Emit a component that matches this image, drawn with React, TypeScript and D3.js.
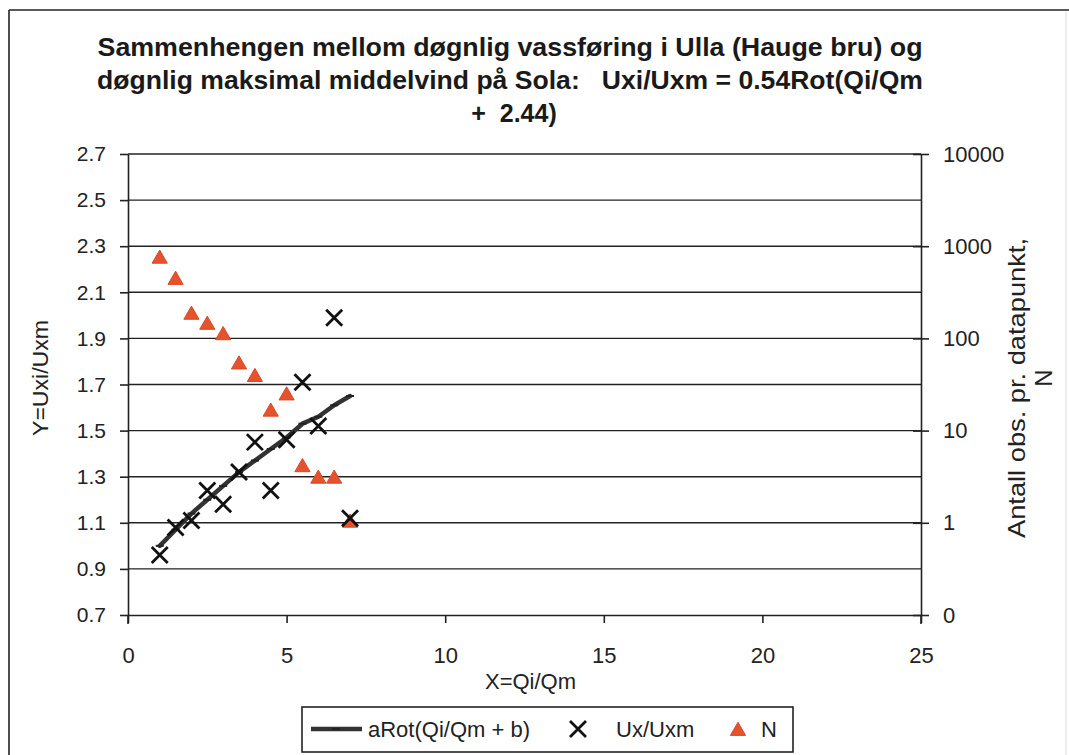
import React, { useEffect, useRef } from 'react';
import * as d3 from 'd3';

// X = Qi/Qm classes
const xVals = [1, 1.5, 2, 2.5, 3, 3.5, 4, 4.5, 5, 5.5, 6, 6.5, 7];
// fitted curve aRot(Qi/Qm + b)
const fitVals = [1.0, 1.07, 1.14, 1.2, 1.26, 1.32, 1.37, 1.42, 1.47, 1.53, 1.56, 1.61, 1.65];
// observed Ux/Uxm
const uxVals = [0.96, 1.08, 1.11, 1.24, 1.18, 1.32, 1.45, 1.24, 1.46, 1.71, 1.52, 1.99, 1.12];
// N, observations per point (right log axis)
const nVals = [730, 430, 180, 140, 108, 52, 38, 16, 24, 4, 3, 3, 1];

const leftTicks = [0.7, 0.9, 1.1, 1.3, 1.5, 1.7, 1.9, 2.1, 2.3, 2.5, 2.7];
const xTicks = [0, 5, 10, 15, 20, 25];
const rightTicks = [0.1, 1, 10, 100, 1000, 10000];
const rightTickLabels = ['0', '1', '10', '100', '1000', '10000'];

const titleLines = [
  'Sammenhengen mellom døgnlig vassføring i Ulla (Hauge bru) og',
  'døgnlig maksimal middelvind på Sola:   Uxi/Uxm = 0.54Rot(Qi/Qm',
  '+  2.44)',
];

const FONT = '"Liberation Sans", Arial, sans-serif';
const RED = '#e4532c';

const App = () => {
  const ref = useRef(null);

  useEffect(() => {
    const W = 1069;
    const H = 755;
    const plot = { left: 128, right: 921, top: 154, bottom: 615 };

    d3.select(ref.current).selectAll('*').remove();

    const svg = d3
      .select(ref.current)
      .append('svg')
      .attr('width', W)
      .attr('height', H)
      .style('position', 'absolute')
      .style('left', '0px')
      .style('top', '0px')
      .style('background', '#fff')
      .style('font-family', FONT);

    // outer chart frame
    svg.append('line').attr('x1', 9).attr('x2', 9).attr('y1', 10).attr('y2', H)
      .attr('stroke', '#222').attr('stroke-width', 1.6);
    svg.append('line').attr('x1', 9).attr('x2', W).attr('y1', 10).attr('y2', 10)
      .attr('stroke', '#222').attr('stroke-width', 1.6);
    svg.append('line').attr('x1', 1066).attr('x2', 1066).attr('y1', 12).attr('y2', H)
      .attr('stroke', '#ddd').attr('stroke-width', 1);

    // title
    const tw = [825, 826, null];
    const ty = [56, 89, 122];
    titleLines.forEach((t, i) => {
      const txt = svg
        .append('text')
        .attr('x', i < 2 ? 510 : 514)
        .attr('y', ty[i])
        .attr('text-anchor', 'middle')
        .style('font-size', '25px')
        .style('font-weight', 'bold')
        .style('white-space', 'pre')
        .style('fill', '#1a1a1a')
        .text(t);
      if (tw[i]) txt.attr('textLength', tw[i]).attr('lengthAdjust', 'spacingAndGlyphs');
    });

    const x = d3.scaleLinear().domain([0, 25]).range([plot.left, plot.right]);
    const y = d3.scaleLinear().domain([0.7, 2.7]).range([plot.bottom, plot.top]);
    const yN = d3.scaleLog().domain([0.1, 10000]).range([plot.bottom, plot.top]);

    // gridlines
    svg
      .append('g')
      .selectAll('line')
      .data(leftTicks.slice(1))
      .enter()
      .append('line')
      .attr('x1', plot.left)
      .attr('x2', plot.right)
      .attr('y1', d => y(d))
      .attr('y2', d => y(d))
      .attr('stroke', '#222')
      .attr('stroke-width', 1.4);

    // left axis
    const gl = svg
      .append('g')
      .attr('transform', `translate(${plot.left},0)`)
      .call(
        d3.axisLeft(y).tickValues(leftTicks).tickFormat(d3.format('.1f'))
          .tickSize(8).tickSizeOuter(0).tickPadding(14)
      );
    gl.selectAll('text').style('font-size', '21px').style('fill', '#222').style('font-family', FONT);

    // bottom axis
    const gb = svg
      .append('g')
      .attr('transform', `translate(0,${plot.bottom})`)
      .call(
        d3.axisBottom(x).tickValues(xTicks).tickFormat(d3.format('d'))
          .tickSize(8).tickSizeOuter(0).tickPadding(24)
      );
    gb.selectAll('text').style('font-size', '22px').style('fill', '#222').style('font-family', FONT);

    // right axis
    const gr = svg
      .append('g')
      .attr('transform', `translate(${plot.right},0)`)
      .call(
        d3.axisRight(yN).tickValues(rightTicks).tickFormat((d, i) => rightTickLabels[i])
          .tickSize(8).tickSizeOuter(0).tickPadding(14)
      );
    gr.selectAll('text').style('font-size', '22px').style('fill', '#222').style('font-family', FONT);
    gr.selectAll('.tick')
      .append('line')
      .attr('x1', -8)
      .attr('x2', 0)
      .attr('stroke', 'currentColor');

    [gl, gb, gr].forEach(g => {
      g.selectAll('path,line').attr('stroke', '#222').attr('stroke-width', 1.6);
    });

    // axis extensions below the x axis
    svg.append('line').attr('x1', plot.left).attr('x2', plot.left)
      .attr('y1', plot.bottom).attr('y2', plot.bottom + 9)
      .attr('stroke', '#222').attr('stroke-width', 1.6);
    svg.append('line').attr('x1', plot.right).attr('x2', plot.right)
      .attr('y1', plot.bottom).attr('y2', plot.bottom + 9)
      .attr('stroke', '#222').attr('stroke-width', 1.6);

    // axis titles
    svg.append('text')
      .attr('x', (plot.left + plot.right) / 2 + 6)
      .attr('y', 689)
      .attr('text-anchor', 'middle')
      .style('font-size', '22px')
      .style('fill', '#222')
      .text('X=Qi/Qm');

    svg.append('text')
      .attr('transform', 'translate(48,378) rotate(-90)')
      .attr('text-anchor', 'middle')
      .attr('textLength', 116)
      .attr('lengthAdjust', 'spacingAndGlyphs')
      .style('font-size', '22px')
      .style('fill', '#222')
      .text('Y=Uxi/Uxm');

    svg.append('text')
      .attr('transform', 'translate(1025,388) rotate(-90)')
      .attr('text-anchor', 'middle')
      .attr('textLength', 300)
      .attr('lengthAdjust', 'spacingAndGlyphs')
      .style('font-size', '24px')
      .style('fill', '#222')
      .text('Antall obs. pr. datapunkt,');
    svg.append('text')
      .attr('transform', 'translate(1052,378) rotate(-90)')
      .attr('text-anchor', 'middle')
      .style('font-size', '24px')
      .style('fill', '#222')
      .text('N');

    const pts = xVals.map((xv, i) => ({ x: xv, fit: fitVals[i], ux: uxVals[i], n: nVals[i] }));

    // fitted line
    const line = d3.line().x(d => x(d.x)).y(d => y(d.fit));
    svg.append('path')
      .datum(pts)
      .attr('d', line)
      .attr('fill', 'none')
      .attr('stroke', '#333')
      .attr('stroke-width', 4.5)
      .attr('stroke-linejoin', 'round')
      .attr('stroke-linecap', 'round');
    svg.append('g')
      .selectAll('line')
      .data(pts)
      .enter()
      .append('line')
      .attr('x1', d => x(d.x) - 4)
      .attr('x2', d => x(d.x) + 4)
      .attr('y1', d => y(d.fit))
      .attr('y2', d => y(d.fit))
      .attr('stroke', '#222')
      .attr('stroke-width', 2);

    // triangles N
    const tri = d3.symbol().type(d3.symbolTriangle).size(100);
    svg.append('g')
      .selectAll('path')
      .data(pts)
      .enter()
      .append('path')
      .attr('d', tri)
      .attr('transform', d => `translate(${x(d.x)},${yN(d.n)})`)
      .attr('fill', RED)
      .attr('stroke', '#d9492a')
      .attr('stroke-width', 1);

    // crosses Ux/Uxm
    const cross = (g, cx, cy, s) => {
      g.append('path')
        .attr('d', `M${cx - s},${cy - s}L${cx + s},${cy + s}M${cx - s},${cy + s}L${cx + s},${cy - s}`)
        .attr('stroke', '#111')
        .attr('stroke-width', 2.8)
        .attr('fill', 'none');
    };
    const gx = svg.append('g');
    pts.forEach(d => cross(gx, x(d.x), y(d.ux), 8));

    // legend
    const lg = svg.append('g');
    lg.append('rect')
      .attr('x', 302).attr('y', 707).attr('width', 491).attr('height', 45)
      .attr('fill', '#fff').attr('stroke', '#222').attr('stroke-width', 1.6);
    lg.append('line').attr('x1', 311).attr('x2', 362).attr('y1', 729).attr('y2', 729)
      .attr('stroke', '#333').attr('stroke-width', 4.5);
    lg.append('line').attr('x1', 332).attr('x2', 340).attr('y1', 729).attr('y2', 729)
      .attr('stroke', '#222').attr('stroke-width', 2);
    lg.append('text').attr('x', 368).attr('y', 737).style('font-size', '22px').style('fill', '#222')
      .text('aRot(Qi/Qm + b)');
    cross(lg, 578, 729, 8);
    lg.append('text').attr('x', 616).attr('y', 737).style('font-size', '22px').style('fill', '#222')
      .text('Ux/Uxm');
    lg.append('path').attr('d', tri).attr('transform', 'translate(738,731)')
      .attr('fill', RED).attr('stroke', '#d9492a').attr('stroke-width', 1);
    lg.append('text').attr('x', 761).attr('y', 737).style('font-size', '22px').style('fill', '#222')
      .text('N');
  }, []);

  return <div ref={ref}></div>;
};

export default App;
